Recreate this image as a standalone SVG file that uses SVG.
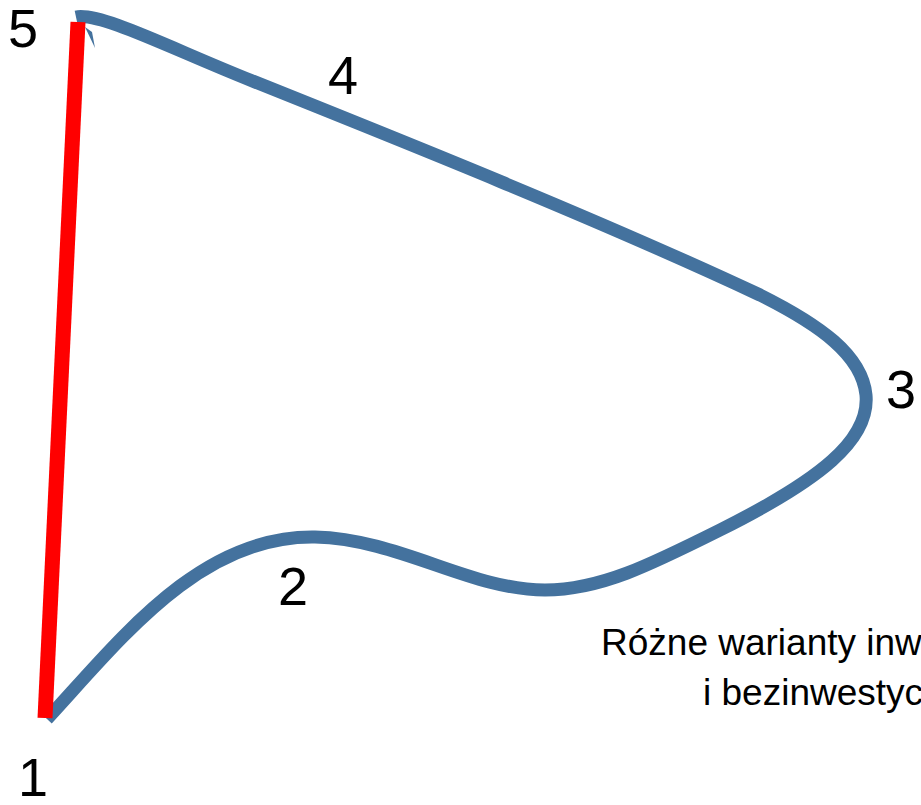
<svg xmlns="http://www.w3.org/2000/svg" width="921" height="805" viewBox="0 0 921 805">
<style>
.num{font-family:"Liberation Sans",Arial,sans-serif;font-size:54px;fill:#000}
.cap{font-family:"Liberation Sans",Arial,sans-serif;font-size:37px;fill:#000}
.loop{fill:none;stroke:#44729E;stroke-width:13;stroke-linejoin:round}
.base{fill:none;stroke:#FF0000;stroke-width:15}
</style>
<rect width="921" height="805" fill="#fff"/>
<g id="connectors">
<path class="loop" d="M47,719 C120,640 200,535 315,537 C400,539 470,590 545,590 C600,590 650,565 720,530 C820,480 870,440 866,395 C862,355 820,325 760,295 C600,220 400,140 250,80 C170,48 100,12 76,17"/>
<polygon points="85,27 95,48 92,32" fill="#44729E"/>
<line class="base" x1="45" y1="718" x2="78" y2="22"/>
</g>
<g id="n1"><text class="num" x="18" y="796">1</text></g>
<g id="n2"><text class="num" x="278" y="605">2</text></g>
<g id="n3"><text class="num" x="886" y="408">3</text></g>
<g id="n4"><text class="num" x="328" y="94">4</text></g>
<g id="n5"><text class="num" x="8" y="47">5</text></g>
<g id="caption">
<text class="cap" x="601" y="655">Różne warianty inwestycyjne</text>
<text class="cap" x="703" y="705">i bezinwestycyjne</text>
</g>
</svg>
